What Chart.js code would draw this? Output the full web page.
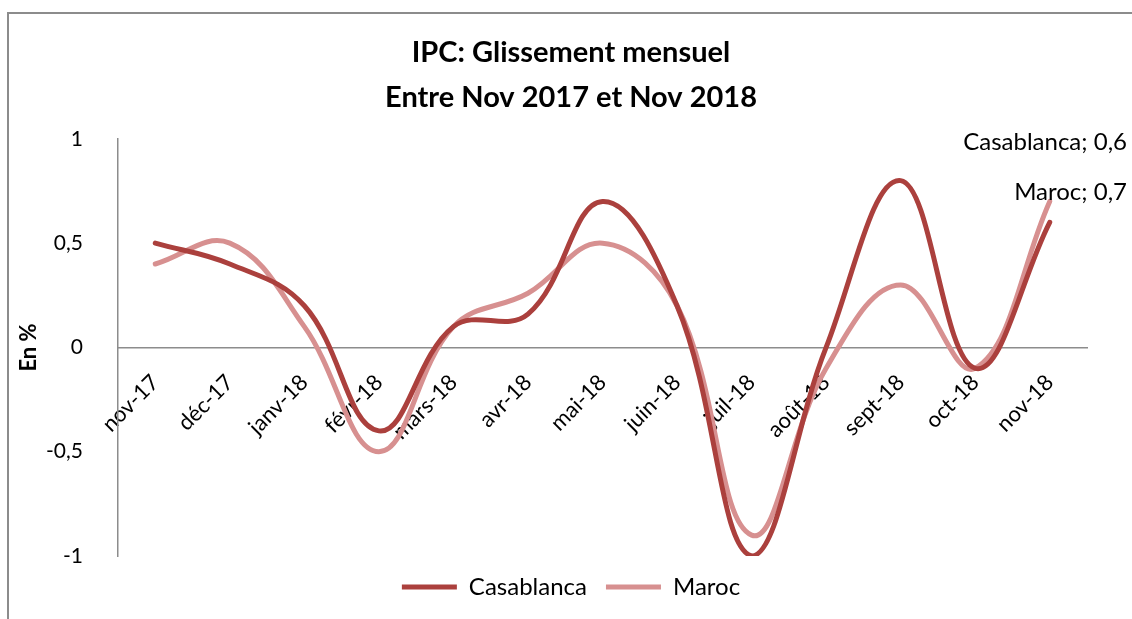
<!DOCTYPE html>
<html>
<head>
<meta charset="utf-8">
<script src="https://cdn.jsdelivr.net/npm/chart.js@4.4.1/dist/chart.umd.min.js"></script>
<style>
  html, body { margin: 0; padding: 0; background: #ffffff; }
</style>
</head>
<body>
<canvas id="ipcChart" width="1132" height="619"></canvas>
<script>
// données
var mois = ["nov-17", "déc-17", "janv-18", "févr-18", "mars-18", "avr-18", "mai-18",
            "juin-18", "juil-18", "août-18", "sept-18", "oct-18", "nov-18"];
var casablanca = [0.5, 0.4, 0.2, -0.4, 0.1, 0.16, 0.7, 0.2, -1.0, 0.0, 0.8, -0.1, 0.6];
var maroc = [0.4, 0.5, 0.1, -0.5, 0.1, 0.26, 0.5, 0.2, -0.9, -0.1, 0.3, -0.1, 0.7];
var yTicks = [-1, -0.5, 0, 0.5, 1];
var titre = ["IPC: Glissement mensuel", "Entre Nov 2017 et Nov 2018"];

var rougeFonce = "#ab403d";
var rose = "#d79090";
var gris = "#8c8c8c";

Chart.defaults.font.family = "Lato, 'Open Sans', sans-serif";
Chart.defaults.color = "#000000";

function virgule(v) {
    return String(v).replace(".", ",");
}

// cadre gris (haut et gauche) + fond blanc
var cadre = {
    id: "cadre",
    beforeDraw: function (chart) {
        var ctx = chart.ctx;
        ctx.save();
        ctx.fillStyle = "#ffffff";
        ctx.fillRect(0, 0, chart.width, chart.height);
        ctx.strokeStyle = gris;
        ctx.lineWidth = 2;
        ctx.beginPath();
        ctx.moveTo(8, chart.height);
        ctx.lineTo(8, 13);
        ctx.lineTo(chart.width, 13);
        ctx.stroke();
        ctx.restore();
    }
};

// étiquettes "Série; valeur" sur le dernier point
var etiquettes = {
    id: "etiquettes",
    afterDatasetsDraw: function (chart) {
        var ctx = chart.ctx;
        var decalages = [-80, -9];
        ctx.save();
        ctx.font = "24px Lato, 'Open Sans', sans-serif";
        ctx.fillStyle = "#000000";
        ctx.textAlign = "right";
        ctx.textBaseline = "middle";
        chart.data.datasets.forEach(function (ds, i) {
            var meta = chart.getDatasetMeta(i);
            var n = ds.data.length - 1;
            var pt = meta.data[n];
            ctx.fillText(ds.label + "; " + virgule(ds.data[n]), chart.chartArea.right + 40, pt.y + decalages[i]);
        });
        ctx.restore();
    }
};

var config = {
    type: "line",
    data: {
        labels: mois,
        datasets: [{
            label: "Casablanca",
            data: casablanca,
            borderColor: rougeFonce,
            backgroundColor: rougeFonce,
            borderWidth: 5,
            pointRadius: 0,
            tension: 0.4,
            borderCapStyle: "round",
            pointStyle: "line"
        }, {
            label: "Maroc",
            data: maroc,
            borderColor: rose,
            backgroundColor: rose,
            borderWidth: 5,
            pointRadius: 0,
            tension: 0.4,
            borderCapStyle: "round",
            pointStyle: "line"
        }]
    },
    options: {
        responsive: false,
        animation: false,
        layout: { padding: { left: 10, right: 0, top: 0, bottom: 10 } },
        plugins: {
            title: {
                display: true,
                text: titre,
                font: { size: 29, weight: "bold", lineHeight: 1.55 },
                padding: { top: 30, bottom: 19 },
                color: "#000000"
            },
            legend: {
                position: "bottom",
                labels: {
                    font: { size: 24 },
                    usePointStyle: true,
                    pointStyleWidth: 55,
                    padding: 19,
                    color: "#000000"
                }
            },
            tooltip: { enabled: false }
        },
        scales: {
            x: {
                position: { y: 0 },
                offset: true,
                grid: { display: false },
                border: { display: true, color: gris, width: 1.5 },
                ticks: {
                    minRotation: 45,
                    maxRotation: 45,
                    autoSkip: false,
                    padding: 14,
                    font: { size: 22 }
                }
            },
            y: {
                min: -1,
                max: 1,
                grid: { display: false },
                border: { display: true, color: gris, width: 1.5 },
                afterBuildTicks: function (axis) {
                    axis.ticks = yTicks.map(function (v) { return { value: v }; });
                },
                afterFit: function (axis) { axis.width = 108; },
                ticks: {
                    padding: 27,
                    font: { size: 21 },
                    callback: function (v) { return virgule(v); }
                },
                title: {
                    display: true,
                    text: "En %",
                    font: { size: 22, weight: "bold" },
                    padding: { top: 6, bottom: 0 }
                }
            },
            // marge droite réservée aux étiquettes de fin de série
            marge: {
                type: "linear",
                position: "right",
                display: true,
                grid: { display: false },
                border: { display: false },
                ticks: { display: false },
                afterFit: function (axis) { axis.width = 45; }
            }
        }
    },
    plugins: [cadre, etiquettes]
};

var ipcChart = new Chart(document.getElementById("ipcChart"), config);
</script>
</body>
</html>
